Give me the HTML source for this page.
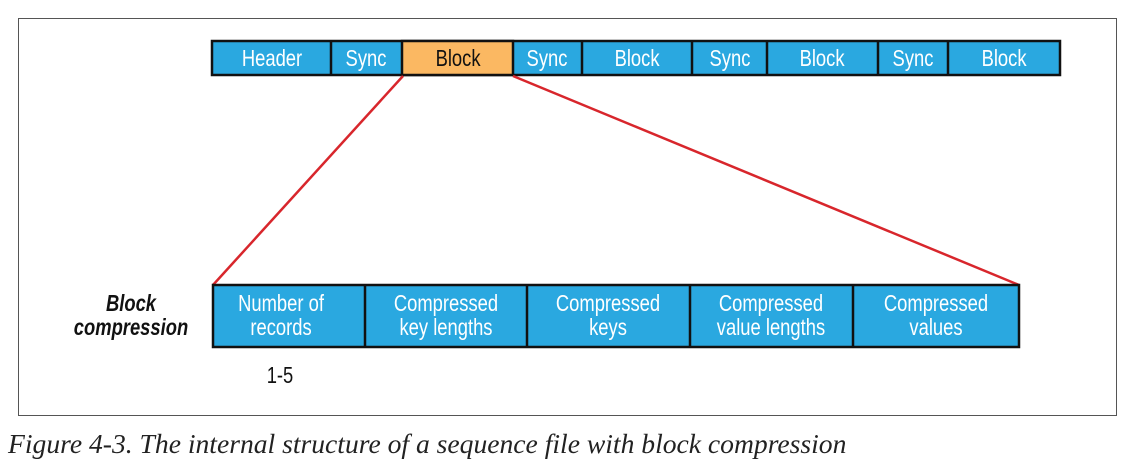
<!DOCTYPE html>
<html><head><meta charset="utf-8"><style>
body{margin:0;width:1132px;height:467px;background:#fff;overflow:hidden;position:relative;font-family:"Liberation Sans",sans-serif}
.frame{position:absolute;left:18px;top:18px;width:1099px;height:398px;border:1px solid #555;box-sizing:border-box}
.cap{position:absolute;left:8px;top:428px;font-family:"Liberation Serif",serif;font-style:italic;font-size:27.6px;color:#222;white-space:nowrap}
svg text{transform-box:fill-box;transform-origin:center;transform:scaleX(0.8)}
</style></head><body>
<div class="frame"></div>
<svg width="1132" height="467" style="position:absolute;left:0;top:0">
<g font-family="Liberation Sans, sans-serif" font-size="23" text-anchor="middle" fill="#fff">
<rect x="212" y="41" width="848" height="34" fill="#2aa8e0" stroke="#111" stroke-width="2.5"/>
<rect x="402" y="41" width="111" height="34" fill="#fbb862" stroke="#111" stroke-width="2.5"/>
<g stroke="#111" stroke-width="2.5">
<line x1="331" y1="41" x2="331" y2="75"/><line x1="582" y1="41" x2="582" y2="75"/><line x1="692" y1="41" x2="692" y2="75"/><line x1="767" y1="41" x2="767" y2="75"/><line x1="878" y1="41" x2="878" y2="75"/><line x1="948" y1="41" x2="948" y2="75"/>
</g>
<text x="272" y="66">Header</text>
<text x="366" y="66">Sync</text>
<text x="458" y="66" fill="#111">Block</text>
<text x="547" y="66">Sync</text>
<text x="637" y="66">Block</text>
<text x="730" y="66">Sync</text>
<text x="822" y="66">Block</text>
<text x="913" y="66">Sync</text>
<text x="1004" y="66">Block</text>
<line x1="403" y1="76" x2="213" y2="285" stroke="#d8262c" stroke-width="2.5"/>
<line x1="513" y1="76" x2="1019" y2="285" stroke="#d8262c" stroke-width="2.5"/>
<rect x="213" y="285" width="806" height="62" fill="#2aa8e0" stroke="#111" stroke-width="2.5"/>
<g stroke="#111" stroke-width="2.5">
<line x1="365" y1="285" x2="365" y2="347"/><line x1="527" y1="285" x2="527" y2="347"/><line x1="690" y1="285" x2="690" y2="347"/><line x1="853" y1="285" x2="853" y2="347"/>
</g>
<text x="281" y="311">Number of<tspan x="281" dy="24">records</tspan></text>
<text x="446" y="311">Compressed<tspan x="446" dy="24">key lengths</tspan></text>
<text x="608" y="311">Compressed<tspan x="608" dy="24">keys</tspan></text>
<text x="771" y="311">Compressed<tspan x="771" dy="24">value lengths</tspan></text>
<text x="936" y="311">Compressed<tspan x="936" dy="24">values</tspan></text>
<text x="131" y="311" fill="#111" font-weight="bold" font-style="italic">Block<tspan x="131" dy="24">compression</tspan></text>
<text x="280" y="383" fill="#111">1-5</text>
</g>
</svg>
<div class="cap">Figure 4-3. The internal structure of a sequence file with block compression</div>
</body></html>
